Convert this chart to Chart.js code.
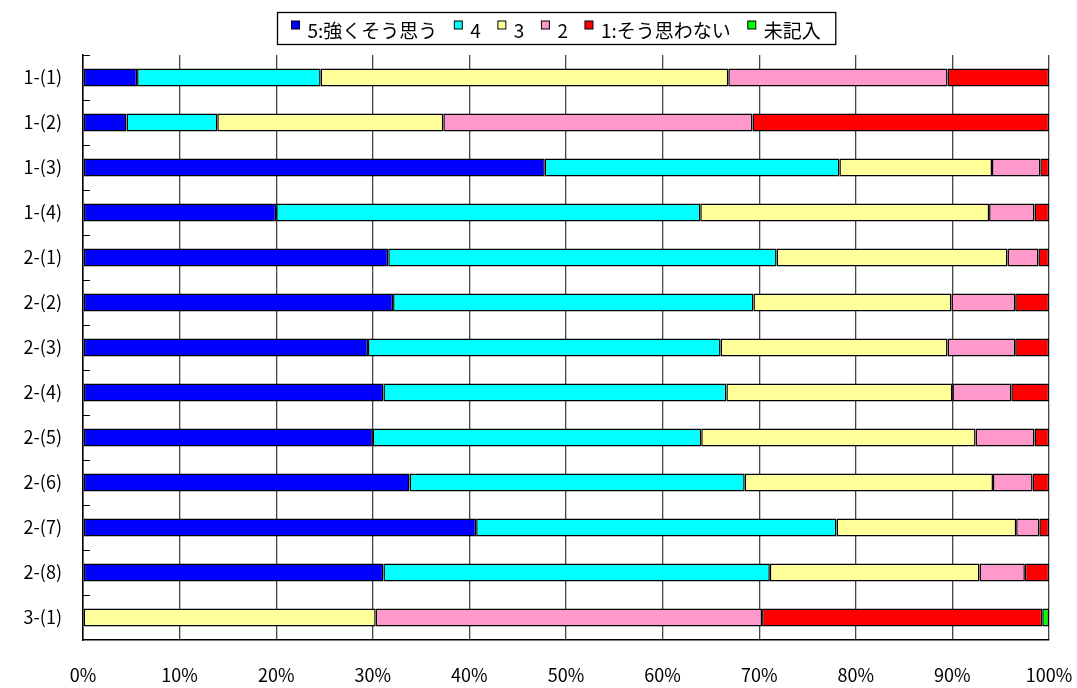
<!DOCTYPE html>
<html lang="ja">
<head>
<meta charset="utf-8">
<title>アンケート結果</title>
<script src="https://cdn.jsdelivr.net/npm/chart.js@4.4.1/dist/chart.umd.min.js"></script>
<style>
  html, body { margin: 0; padding: 0; background: #ffffff; }
  canvas { display: block; }
</style>
</head>
<body>
<canvas id="chart" width="1077" height="688"></canvas>
<script>
// Question items (rows, top to bottom)
const categories = ['1-(1)', '1-(2)', '1-(3)', '1-(4)', '2-(1)', '2-(2)', '2-(3)',
                    '2-(4)', '2-(5)', '2-(6)', '2-(7)', '2-(8)', '3-(1)'];

// Share of answers per item, in percent
const answer5 = [5.6, 4.5, 47.8, 20.0, 31.6, 32.1, 29.5, 31.1, 30.0, 33.8, 40.7, 31.1, 0];
const answer4 = [19.0, 9.4, 30.5, 43.9, 40.2, 37.3, 36.5, 35.5, 34.0, 34.7, 37.3, 40.0, 0];
const answer3 = [42.2, 23.4, 15.8, 29.9, 23.9, 20.5, 23.5, 23.4, 28.4, 25.7, 18.6, 21.7, 30.3];
const answer2 = [22.7, 32.0, 5.0, 4.7, 3.2, 6.6, 7.0, 6.1, 6.1, 4.1, 2.4, 4.7, 40.0];
const answer1 = [10.5, 30.7, 0.9, 1.5, 1.1, 3.5, 3.5, 3.9, 1.5, 1.7, 1.0, 2.5, 29.0];
const noAnswer = [0, 0, 0, 0, 0, 0, 0, 0, 0, 0, 0, 0, 0.7];

// Series names shown in the legend
const seriesNames = ['5:強くそう思う', '4', '3', '2', '1:そう思わない', '未記入'];

// Axis tick values (percent)
const xTickValues = [0, 10, 20, 30, 40, 50, 60, 70, 80, 90, 100];

const FONT = '"Noto Sans CJK JP", "Noto Sans", sans-serif';
const seriesColors = ['#0000ff', '#00ffff', '#ffff99', '#ff99cc', '#ff0000', '#00ff00'];
const seriesValues = [answer5, answer4, answer3, answer2, answer1, noAnswer];

const datasets = seriesNames.map((name, i) => ({
  label: name,
  data: seriesValues[i],
  backgroundColor: seriesColors[i],
  borderColor: '#000000',
  borderWidth: 1.5,
  borderSkipped: false,
  barPercentage: 0.4,
  categoryPercentage: 1.0
}));

// White page background
const whiteBackground = {
  id: 'whiteBackground',
  beforeDraw(chart) {
    const ctx = chart.ctx;
    ctx.save();
    ctx.fillStyle = '#ffffff';
    ctx.fillRect(0, 0, chart.width, chart.height);
    ctx.restore();
  }
};

// Short tick marks on the category axis, pointing into the plot at row boundaries
const innerCategoryTicks = {
  id: 'innerCategoryTicks',
  afterDraw(chart) {
    const y = chart.scales.y;
    const area = chart.chartArea;
    const ctx = chart.ctx;
    const n = chart.data.labels.length;
    const step = n > 1 ? (y.getPixelForTick(1) - y.getPixelForTick(0)) : (area.bottom - area.top);
    ctx.save();
    ctx.strokeStyle = '#000000';
    ctx.lineWidth = 1;
    for (let i = 0; i < n; i++) {
      const py = Math.round(y.getPixelForTick(i) - step / 2) + 0.5;
      ctx.beginPath();
      ctx.moveTo(area.left, py);
      ctx.lineTo(area.left + 7, py);
      ctx.stroke();
    }
    ctx.restore();
  }
};

// Boxed legend above the plot
const boxedLegend = {
  id: 'boxedLegend',
  afterDraw(chart) {
    const ctx = chart.ctx;
    const items = chart.data.datasets.map(d => ({ text: d.label, color: d.backgroundColor }));
    const square = 8, gap = 8, spacing = 17, padL = 14, padR = 15;
    ctx.save();
    ctx.font = '19px ' + FONT;
    const widths = items.map(it => square + gap + ctx.measureText(it.text).width);
    const inner = widths.reduce((a, b) => a + b, 0) + spacing * (items.length - 1);
    const boxW = inner + padL + padR;
    const boxTop = 12.5, boxH = 32;
    const boxLeft = Math.round(chart.width * 0.516 - boxW / 2) + 0.5;
    ctx.strokeStyle = '#000000';
    ctx.lineWidth = 1.3;
    ctx.strokeRect(boxLeft, boxTop, boxW, boxH);
    let x = boxLeft + padL;
    const textY = boxTop + 18.5;
    items.forEach((it, i) => {
      ctx.fillStyle = it.color;
      ctx.fillRect(x, boxTop + 8.5, square, square);
      ctx.strokeStyle = '#000000';
      ctx.lineWidth = 1;
      ctx.strokeRect(x, boxTop + 8.5, square, square);
      ctx.fillStyle = '#000000';
      ctx.textBaseline = 'middle';
      ctx.textAlign = 'left';
      ctx.fillText(it.text, x + square + gap, textY);
      x += widths[i] + spacing;
    });
    ctx.restore();
  }
};

new Chart(document.getElementById('chart'), {
  type: 'bar',
  data: { labels: categories, datasets },
  plugins: [whiteBackground, innerCategoryTicks, boxedLegend],
  options: {
    indexAxis: 'y',
    responsive: false,
    devicePixelRatio: 1,
    animation: false,
    layout: { padding: { top: 55, right: 28, bottom: 0, left: 0 } },
    plugins: {
      legend: { display: false },
      tooltip: { enabled: false },
      title: { display: false }
    },
    scales: {
      x: {
        stacked: true,
        min: 0,
        max: 100,
        afterBuildTicks(scale) {
          scale.ticks = xTickValues.map(v => ({ value: v }));
        },
        afterFit(scale) { scale.height = 48; },
        ticks: {
          callback: v => v + '%',
          color: '#000000',
          font: { family: FONT, size: 18 },
          padding: 0,
          maxRotation: 0,
          autoSkip: false
        },
        grid: {
          color: '#474747',
          lineWidth: 1.3,
          drawTicks: true,
          tickLength: 24,
          tickColor: 'rgba(0,0,0,0)'
        },
        border: { color: '#000000', width: 1.5 }
      },
      y: {
        stacked: true,
        afterFit(scale) { scale.width = 83; },
        ticks: {
          color: '#000000',
          font: { family: FONT, size: 18 },
          padding: 21,
          autoSkip: false
        },
        grid: { display: true, drawOnChartArea: false, drawTicks: false },
        border: { color: '#000000', width: 1.5 }
      }
    }
  }
});
</script>
</body>
</html>
